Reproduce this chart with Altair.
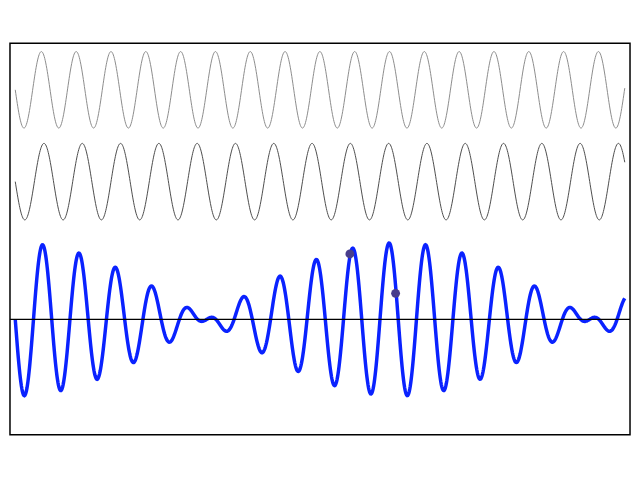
import numpy as np
import pandas as pd
import altair as alt

# Parameters
t_start, t_end = 0.0, 10.0
freqs = [11.0, 10.0]          # angular frequencies of the two component waves
offsets = [6.0, 3.6]          # vertical offsets of the two component waves
wave_colors = ["#8c8c8c", "#4d4d4d"]
sum_color = "#0a22ff"
dot_color = "#483d8b"
n_samples = 1200
dot_t = [5.49, 6.24]
dot_y = [1.71, 0.68]
x_domain = [-0.0864, 10.086]
y_domain = [-3.013, 7.22]

t = np.linspace(t_start, t_end, n_samples)
w1 = -np.sin(freqs[0] * t)
w2 = -np.sin(freqs[1] * t)

df1 = pd.DataFrame({"t": t, "y": w1 + offsets[0]})
df2 = pd.DataFrame({"t": t, "y": w2 + offsets[1]})
dfs = pd.DataFrame({"t": t, "y": w1 + w2})
dots = pd.DataFrame({"t": dot_t, "y": dot_y})
zero = pd.DataFrame({"y": [0.0]})

xs = alt.Scale(domain=x_domain, nice=False, zero=False)
ys = alt.Scale(domain=y_domain, nice=False, zero=False)

def line(df, color, width):
    return alt.Chart(df).mark_line(color=color, strokeWidth=width).encode(
        x=alt.X("t:Q", scale=xs, axis=None),
        y=alt.Y("y:Q", scale=ys, axis=None),
        order="t:Q",
    )

l1 = line(df1, wave_colors[0], 1)
l2 = line(df2, wave_colors[1], 1)
ls = line(dfs, sum_color, 3.5)
rule = alt.Chart(zero).mark_rule(color="black", strokeWidth=1.2).encode(
    y=alt.Y("y:Q", scale=ys, axis=None)
)
pts = alt.Chart(dots).mark_circle(color=dot_color, size=80, opacity=1).encode(
    x=alt.X("t:Q", scale=xs, axis=None),
    y=alt.Y("y:Q", scale=ys, axis=None),
)

chart = alt.layer(l1, l2, ls, rule, pts).properties(
    width=624, height=394,
    padding={"left": 0, "top": 34, "right": 0, "bottom": 0},
    background="white",
).configure_view(stroke="black", strokeWidth=1.5)

chart.save("out.html", embed_options={"renderer": "svg", "actions": False})
